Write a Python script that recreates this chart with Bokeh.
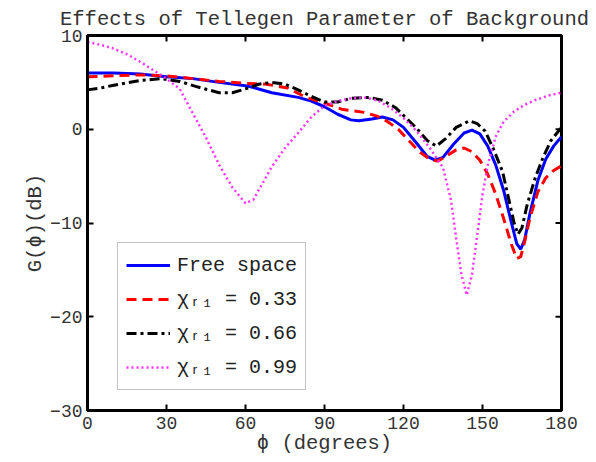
from bokeh.plotting import figure
from bokeh.models import Range1d, FixedTicker, Legend, LegendItem
from bokeh.embed import file_html
from bokeh.resources import INLINE

# Free space
x_free = [0, 10, 20, 30, 40, 50, 60, 65, 70, 80, 85, 90, 95, 100, 103, 108, 112, 116, 120,
          125, 129, 132, 135, 139, 143, 146, 149, 152, 155, 158, 161, 163, 164.5, 166, 168,
          171, 174, 177, 180]
g_free = [6.0, 6.0, 5.9, 5.6, 5.4, 5.0, 4.65, 4.3, 3.9, 3.4, 3.0, 2.4, 1.6, 1.0, 0.9, 1.1, 1.3,
          1.0, 0.2, -1.5, -2.9, -3.3, -3.0, -1.6, -0.4, -0.1, -0.5, -1.8, -3.8, -6.5, -10.0,
          -12.2, -12.8, -11.8, -9.0, -5.5, -3.2, -1.8, -0.8]

# chi_r1 = 0.33
x_033 = [0, 10, 20, 30, 40, 50, 60, 68, 76, 83, 90, 97, 100, 105, 110, 114, 118, 122, 126,
         130, 133, 136, 140, 143, 146, 149, 152, 155, 158, 161, 163, 164.5, 166, 168, 171,
         174, 177, 180]
g_033 = [5.6, 5.7, 5.8, 5.7, 5.4, 5.1, 4.9, 4.8, 4.4, 3.4, 2.8, 2.1, 2.0, 1.8, 1.4, 0.8, 0.0,
         -1.2, -2.4, -3.2, -3.4, -2.9, -2.2, -2.0, -2.4, -3.3, -4.8, -6.9, -9.5, -12.3, -13.8,
         -13.6, -12.0, -9.5, -6.7, -5.2, -4.4, -3.9]

# chi_r1 = 0.66
x_066 = [0, 5, 10, 20, 28, 35, 42, 50, 55, 60, 65, 70, 75, 80, 85, 90, 95, 100, 107, 112,
         117, 121, 125, 129, 132.5, 136, 140, 145, 148, 151, 154, 157.6, 160, 162, 163.5, 165,
         167, 170, 173, 176, 180]
g_066 = [4.2, 4.4, 4.7, 5.2, 5.4, 5.1, 4.5, 3.9, 3.9, 4.3, 4.8, 5.0, 4.8, 4.2, 3.5, 2.9, 2.9,
         3.3, 3.4, 3.1, 2.3, 1.2, 0.1, -1.2, -1.8, -1.0, 0.2, 0.9, 0.6, -0.2, -2.0, -4.5, -7.5,
         -10.0, -11.2, -10.5, -8.0, -5.2, -3.0, -1.2, 0.2]

# chi_r1 = 0.99
x_099 = [0, 5, 10, 15, 20, 25, 30, 35, 40, 45, 50, 55, 60, 63, 66, 70, 75, 80, 85, 90, 95,
         100, 105, 110, 115, 120, 125, 130, 135, 138, 140, 142, 144, 146, 148, 150, 152, 155,
         158, 162, 166, 170, 175, 180]
g_099 = [9.3, 9.0, 8.6, 8.0, 7.2, 6.3, 5.4, 4.3, 1.7, -0.9, -3.8, -6.2, -7.9, -7.5, -6.0,
         -4.0, -2.0, -0.4, 1.3, 2.5, 3.0, 3.3, 3.4, 3.1, 2.3, 1.2, -0.2, -2.0, -4.1, -7.5,
         -11.6, -15.5, -17.7, -15.5, -11.3, -7.0, -3.8, -0.8, 0.8, 1.9, 2.6, 3.1, 3.6, 3.9]

x_ticks = [0, 30, 60, 90, 120, 150, 180]
y_ticks = [-30, -20, -10, 0, 10]
x_lim = (0, 180)
y_lim = (-30, 10)

labels = ["Free space", "\u03c7\u1d63\u2081 = 0.33", "\u03c7\u1d63\u2081 = 0.66",
          "\u03c7\u1d63\u2081 = 0.99"]

FONT = "Liberation Mono"
TXT = "#333333"

W, H = 596, 462
BL, BR, BT, BB = 87, 35, 34, 52

p = figure(width=W, height=H, x_range=Range1d(*x_lim), y_range=Range1d(*y_lim),
           output_backend="svg", toolbar_location=None,
           min_border_left=BL, min_border_right=BR, min_border_top=BT, min_border_bottom=BB)

p.title.text = "Effects of Tellegen Parameter of Background"
p.title.text_font = FONT
p.title.text_font_size = "20.5px"
p.title.text_font_style = "normal"
p.title.text_color = TXT
p.title.align = "center"
p.title.standoff = 10

p.grid.visible = False
p.outline_line_color = "black"
p.outline_line_width = 3

p.xaxis.ticker = FixedTicker(ticks=x_ticks)
p.yaxis.ticker = FixedTicker(ticks=y_ticks)
for ax in [p.xaxis[0], p.yaxis[0]]:
    ax.axis_line_width = 3
    ax.major_tick_in = 6
    ax.major_tick_out = 0
    ax.major_tick_line_width = 2
    ax.minor_tick_line_color = None
    ax.major_label_text_font = FONT
    ax.major_label_text_font_size = "18px"
    ax.major_label_text_color = TXT
    ax.axis_label_text_font = FONT
    ax.axis_label_text_font_size = "20.5px"
    ax.axis_label_text_font_style = "normal"
    ax.axis_label_text_color = TXT
p.xaxis.major_label_standoff = 6
p.xaxis.axis_label_standoff = 0
p.yaxis.major_label_standoff = 5
p.yaxis.axis_label_standoff = 0
p.xaxis.axis_label = "\u03d5 (degrees)"
p.yaxis.axis_label = "G(\u03d5)(dB)"

# mirrored inward ticks on the top and right frame edges
frame_w = W - BL - BR
frame_h = H - BT - BB
tick_px = 6
dy = tick_px * (y_lim[1] - y_lim[0]) / frame_h
dx = tick_px * (x_lim[1] - x_lim[0]) / frame_w
p.segment(x0=x_ticks, y0=[y_lim[1]] * len(x_ticks), x1=x_ticks,
          y1=[y_lim[1] - dy] * len(x_ticks), line_color="black", line_width=2)
p.segment(x0=[x_lim[1]] * len(y_ticks), y0=y_ticks, x1=[x_lim[1] - dx] * len(y_ticks),
          y1=y_ticks, line_color="black", line_width=2)

r1 = p.line(x_free, g_free, line_color="#0000ff", line_width=3)
r2 = p.line(x_033, g_033, line_color="#ff0000", line_width=3, line_dash="10 6")
r3 = p.line(x_066, g_066, line_color="black", line_width=3, line_dash="10 4 3 4")
r4 = p.line(x_099, g_099, line_color="#ff33ff", line_width=2.5, line_dash="2 3")

legend = Legend(items=[LegendItem(label=labels[0], renderers=[r1]),
                       LegendItem(label=labels[1], renderers=[r2]),
                       LegendItem(label=labels[2], renderers=[r3]),
                       LegendItem(label=labels[3], renderers=[r4])],
                location=(30, 20))
legend.label_text_font = FONT
legend.label_text_font_size = "20px"
legend.label_text_color = "#222222"
legend.border_line_color = "#888888"
legend.border_line_width = 1
legend.background_fill_alpha = 1
legend.glyph_width = 44
legend.glyph_height = 28
legend.spacing = 6
legend.padding = 8
legend.margin = 0
legend.label_standoff = 7
p.add_layout(legend)

open("out.html", "w").write(file_html(p, INLINE))
